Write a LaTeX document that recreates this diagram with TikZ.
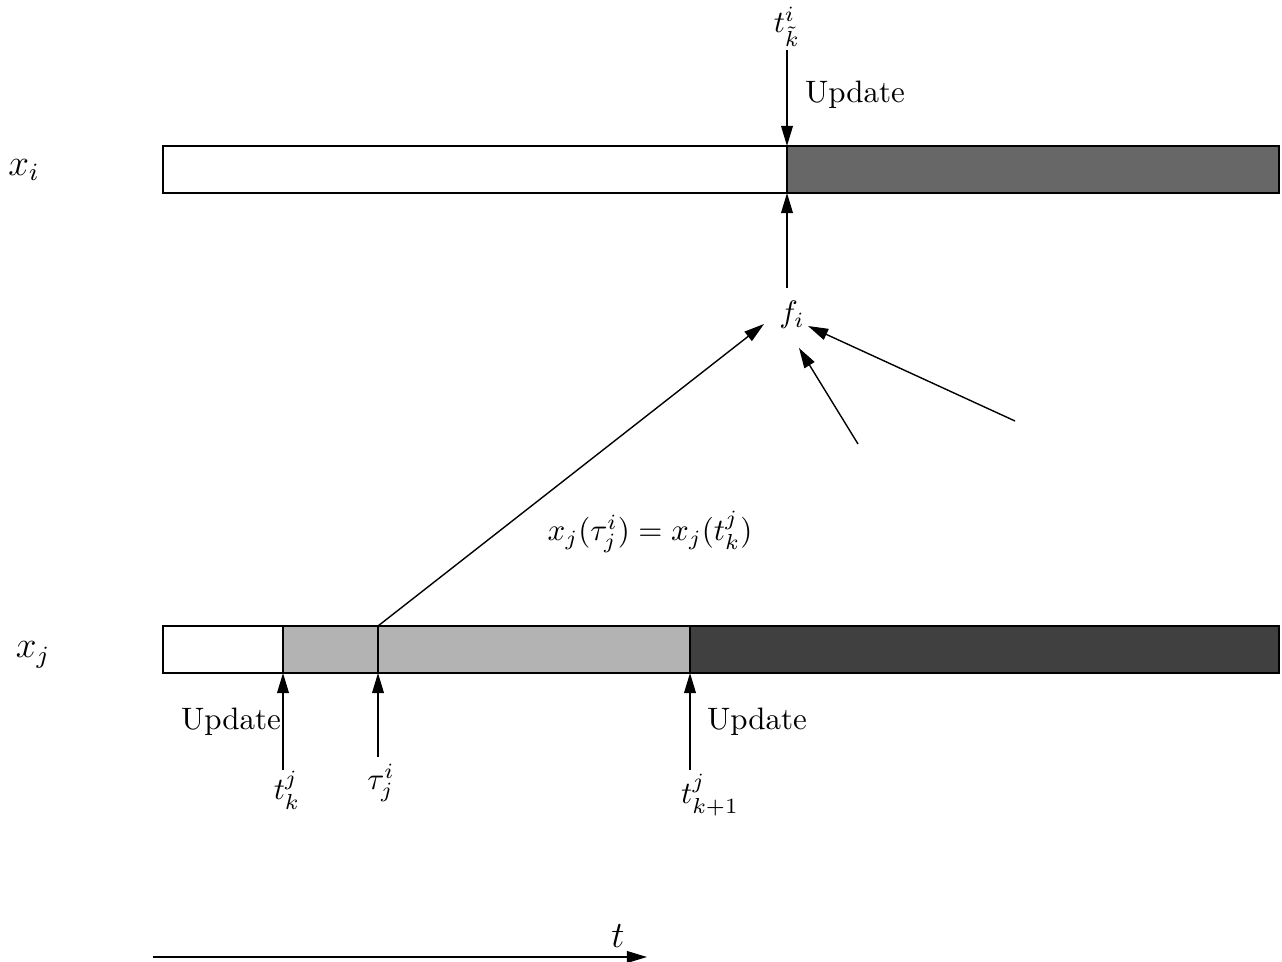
\documentclass[tikz,border=0pt]{standalone}
\usetikzlibrary{arrows.meta}
\definecolor{topdark}{HTML}{676767}
\definecolor{midgray}{HTML}{B3B3B3}
\definecolor{botdark}{HTML}{404040}
\begin{document}
\begin{tikzpicture}[x=0.3226pt,y=-0.3226pt,
  >={Triangle[length=6.5pt,width=3.8pt]},
  conn/.style={->, line width=0.45pt},
  barline/.style={draw, line width=0.45pt},
  lbl/.style={inner sep=0pt},
  biglbl/.style={inner sep=0pt, font=\large}]
\useasboundingbox (0,0) rectangle (1282,962);
% top bar (x_i)
\fill[topdark] (787,146) rectangle (1279,193);
\draw[barline] (163,146) rectangle (1279,193);
\draw[barline] (787,146) -- (787,193);
% bottom bar (x_j)
\fill[midgray] (283,626) rectangle (690,673);
\fill[botdark] (690,626) rectangle (1279,673);
\draw[barline] (163,626) rectangle (1279,673);
\draw[barline] (283,626) -- (283,673);
\draw[barline] (378,626) -- (378,673);
\draw[barline] (690,626) -- (690,673);
% labels
\node[biglbl] (xi) at (24,170) {$x_i$};
\node[biglbl] (xj) at (33,655) {$x_j$};
\node[lbl] (tk) at (787,27) {$t^i_{\tilde k}$};
\node[lbl] (upd1) at (855,95) {Update};
\node[lbl] (fi) at (792,315) {$f_i$};
\node[lbl] (eq) at (650,532) {$x_j(\tau^i_j) = x_j(t^j_k)$};
\node[lbl] (upd2) at (231,722) {Update};
\node[lbl] (upd3) at (757,722) {Update};
\node[lbl] (tkj) at (287,790) {$t^j_k$};
\node[lbl] (tau) at (381,783) {$\tau^i_j$};
\node[lbl] (tk1) at (710,795) {$t^j_{k+1}$};
\node[biglbl] (tt) at (618,936) {$t$};
% coordinates
\coordinate (tkstart) at (787,50);
\coordinate (topbarT) at (787,146);
\coordinate (topbarB) at (787,193);
\coordinate (fitop) at (787,288);
\coordinate (tauTop) at (378,626);
\coordinate (fiA) at (764,324);
\coordinate (fiB) at (799,348);
\coordinate (fiC) at (808,326);
\coordinate (inB) at (858,444);
\coordinate (inC) at (1015,421);
\coordinate (tkjS) at (283,770);
\coordinate (tkjE) at (283,673);
\coordinate (tauS) at (378,757);
\coordinate (tauE) at (378,673);
\coordinate (tk1S) at (690,770);
\coordinate (tk1E) at (690,673);
\coordinate (axS) at (153,957);
\coordinate (axE) at (647,957);
% connectors
\draw[conn] (tkstart) -- (topbarT);
\draw[conn] (fitop) -- (topbarB);
\draw[conn] (tauTop) -- (fiA);
\draw[conn] (inB) -- (fiB);
\draw[conn] (inC) -- (fiC);
\draw[conn] (tkjS) -- (tkjE);
\draw[conn] (tauS) -- (tauE);
\draw[conn] (tk1S) -- (tk1E);
\draw[conn] (axS) -- (axE);
\end{tikzpicture}
\end{document}
